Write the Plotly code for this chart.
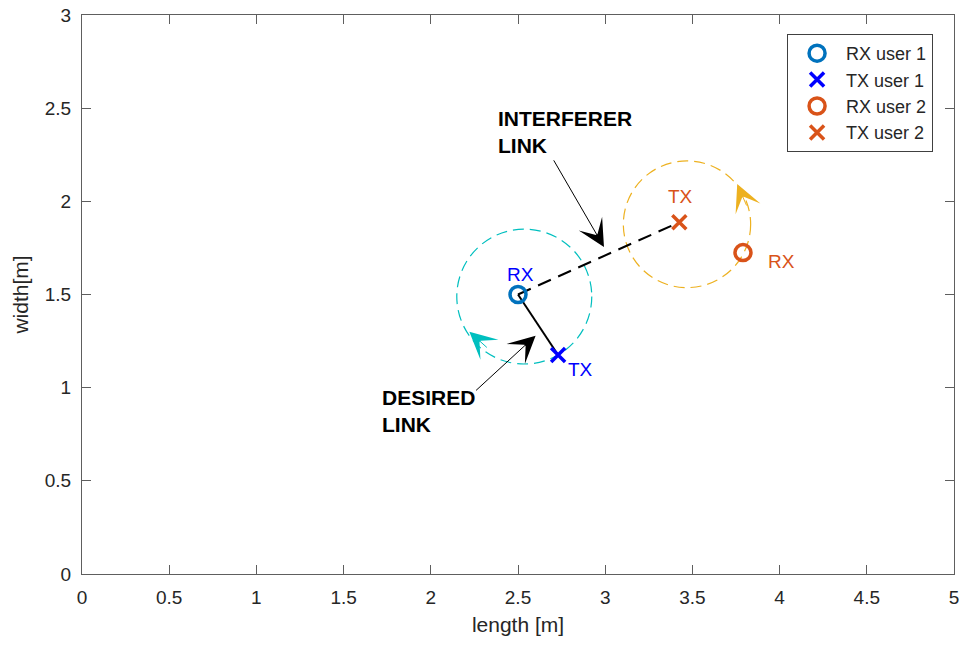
import plotly.graph_objects as go

# Node positions [m]
rx1_x, rx1_y = [2.50], [1.50]
tx1_x, tx1_y = [2.73], [1.175]
rx2_x, rx2_y = [3.79], [1.725]
tx2_x, tx2_y = [3.425], [1.888]

# Rotation paths around each user: centre and radii (x, y) in metres
path1_center = [2.536, 1.489]
path1_radius = [0.387, 0.362]
path2_center = [3.469, 1.877]
path2_radius = [0.365, 0.340]

# Direction arrows on the paths: tip position and tail offset in px
path1_arrow_tip = [2.221, 1.300]
path1_arrow_tail = [19, 17]
path2_arrow_tip = [3.757, 2.093]
path2_arrow_tail = [10, 23]

# Callout arrows: (tail, tip) in metres
interf_arrow = [(2.70, 2.228), (2.993, 1.755)]
desired_arrow = [(2.251, 0.978), (2.601, 1.279)]

x_ticks = [0, 0.5, 1, 1.5, 2, 2.5, 3, 3.5, 4, 4.5, 5]
y_ticks = [0, 0.5, 1, 1.5, 2, 2.5, 3]

BLUE_RX = "#0072BD"
BLUE_TX = "#0000FF"
ORANGE = "#D95319"
CYAN = "#00BFBF"
GOLD = "#EDB120"
FONT = "Liberation Sans, Arial, Helvetica, sans-serif"

fig = go.Figure()

# Desired link (solid) and interferer link (dashed)
fig.add_trace(go.Scatter(x=[rx1_x[0], tx1_x[0]], y=[rx1_y[0], tx1_y[0]], mode="lines",
                         line=dict(color="black", width=2), showlegend=False, hoverinfo="skip"))
fig.add_trace(go.Scatter(x=[rx1_x[0], tx2_x[0]], y=[rx1_y[0], tx2_y[0]], mode="lines",
                         line=dict(color="black", width=2, dash="14px,8px"),
                         showlegend=False, hoverinfo="skip"))

fig.add_trace(go.Scatter(x=rx1_x, y=rx1_y, mode="markers", name="RX user 1",
                         marker=dict(symbol="circle-open", size=16, color=BLUE_RX,
                                     line=dict(width=3.5, color=BLUE_RX))))
fig.add_trace(go.Scatter(x=tx1_x, y=tx1_y, mode="markers", name="TX user 1",
                         marker=dict(symbol="x-thin-open", size=14, color=BLUE_TX,
                                     line=dict(width=3.5, color=BLUE_TX))))
fig.add_trace(go.Scatter(x=rx2_x, y=rx2_y, mode="markers", name="RX user 2",
                         marker=dict(symbol="circle-open", size=16, color=ORANGE,
                                     line=dict(width=3.5, color=ORANGE))))
fig.add_trace(go.Scatter(x=tx2_x, y=tx2_y, mode="markers", name="TX user 2",
                         marker=dict(symbol="x-thin-open", size=14, color=ORANGE,
                                     line=dict(width=3.5, color=ORANGE))))

shapes = []
for (cx, cy), (rx, ry), col in [(path1_center, path1_radius, CYAN),
                                (path2_center, path2_radius, GOLD)]:
    shapes.append(dict(type="circle", xref="x", yref="y",
                       x0=cx - rx, x1=cx + rx, y0=cy - ry, y1=cy + ry,
                       line=dict(color=col, width=1.2, dash="11px,6px"), layer="below"))

annotations = []
# Direction arrowheads on the paths
for tip, tail, col in [(path1_arrow_tip, path1_arrow_tail, CYAN),
                       (path2_arrow_tip, path2_arrow_tail, GOLD)]:
    annotations.append(dict(x=tip[0], y=tip[1], ax=tail[0], ay=tail[1], text="",
                            showarrow=True, arrowhead=3, arrowsize=4.5, arrowwidth=1,
                            arrowcolor=col, xref="x", yref="y"))
# Callout arrows
for (tail, tip) in [interf_arrow, desired_arrow]:
    annotations.append(dict(x=tip[0], y=tip[1], ax=tail[0], ay=tail[1], axref="x", ayref="y",
                            text="", showarrow=True, arrowhead=3, arrowsize=4.5, arrowwidth=1,
                            arrowcolor="black", xref="x", yref="y"))

# Callout texts
annotations.append(dict(x=2.374, y=2.372, text="<b>INTERFERER<br>LINK</b>", showarrow=False,
                        xanchor="left", yanchor="middle", align="left",
                        font=dict(family=FONT, size=21, color="black")))
annotations.append(dict(x=1.707, y=0.877, text="<b>DESIRED<br>LINK</b>", showarrow=False,
                        xanchor="left", yanchor="middle", align="left",
                        font=dict(family=FONT, size=21, color="black")))

# Node labels
for x, y, t, col in [(2.514, 1.607, "RX", BLUE_TX), (2.856, 1.095, "TX", BLUE_TX),
                     (3.429, 2.025, "TX", ORANGE), (4.008, 1.676, "RX", ORANGE)]:
    annotations.append(dict(x=x, y=y, text=t, showarrow=False, xanchor="center",
                            yanchor="middle", font=dict(family=FONT, size=19, color=col)))

axis_common = dict(showline=True, linecolor="#5e5e5e", linewidth=1, mirror="ticks",
                   ticks="inside", ticklen=9, tickcolor="#5e5e5e", showgrid=False,
                   zeroline=False, automargin=False,
                   tickfont=dict(family=FONT, size=19, color="#262626"))

fig.update_layout(
    width=961, height=646,
    margin=dict(l=82, r=7, t=15, b=72),
    plot_bgcolor="white", paper_bgcolor="white",
    font=dict(family=FONT, color="#262626"),
    xaxis=dict(range=[0, 5], tickvals=x_ticks, ticktext=[f"{v:g}" for v in x_ticks],
               ticklabelstandoff=6,
               title=dict(text="length [m]", font=dict(family=FONT, size=21, color="#262626"),
                          standoff=10),
               **axis_common),
    yaxis=dict(range=[0, 3], tickvals=y_ticks, ticktext=[f"{v:g}" for v in y_ticks],
               ticklabelstandoff=6,
               title=dict(text="width[m]", font=dict(family=FONT, size=21, color="#262626"),
                          standoff=10),
               **axis_common),
    legend=dict(x=0.976, y=0.966, xanchor="right", yanchor="top",
                bgcolor="white", bordercolor="#404040", borderwidth=1, itemwidth=48,
                font=dict(family=FONT, size=18, color="#262626")),
    shapes=shapes,
    annotations=annotations,
    showlegend=True,
)

fig.write_html("out.html")
